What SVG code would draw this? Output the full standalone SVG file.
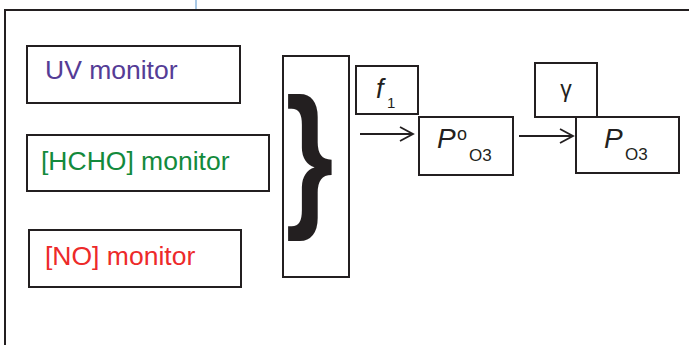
<svg xmlns="http://www.w3.org/2000/svg" width="689" height="345" viewBox="0 0 689 345">
<defs>
<style>
.box{fill:#fff;stroke:#231f20;stroke-width:2}
.lbl{font-family:"Liberation Sans",Arial,sans-serif;font-size:26.5px}
.sym{font-family:"Liberation Sans",Arial,sans-serif;fill:#231f20}
.conn{stroke:#231f20;stroke-width:1.8;fill:none}
</style>
</defs>
<rect width="689" height="345" fill="#fff"/>
<line x1="196" y1="0" x2="196" y2="10" stroke="#a9c9e6" stroke-width="2"/>
<path d="M5,345 V10 H689" fill="none" stroke="#231f20" stroke-width="2"/>
<g id="uv-monitor">
<rect class="box" x="27" y="46" width="213" height="57"/>
<text class="lbl" x="45" y="79" fill="#553c96">UV monitor</text>
</g>
<g id="hcho-monitor">
<rect class="box" x="27" y="135" width="242" height="56"/>
<text class="lbl" x="41" y="170" fill="#138a3c">[HCHO] monitor</text>
</g>
<g id="no-monitor">
<rect class="box" x="29" y="230" width="212" height="57"/>
<text class="lbl" x="45" y="265" fill="#ed2a2a">[NO] monitor</text>
</g>
<g id="combiner">
<rect class="box" x="283" y="56" width="66" height="221"/>
<text class="sym" transform="translate(285.5,208) scale(0.78,1)" font-size="158" font-weight="bold">}</text>
</g>
<g id="f1">
<rect class="box" x="356" y="66" width="62" height="48"/>
<text class="sym" x="376" y="98" font-size="27" font-style="italic">f</text>
<text class="sym" x="387" y="108" font-size="15">1</text>
</g>
<g id="p0-o3">
<rect class="box" x="419" y="117" width="94" height="58"/>
<text class="sym" x="437" y="148" font-size="28" font-style="italic">P</text>
<text class="sym" x="457" y="140" font-size="18">o</text>
<text class="sym" x="469" y="161" font-size="17">O3</text>
</g>
<g id="gamma">
<rect class="box" x="535" y="63" width="62" height="54"/>
<text class="sym" x="566" y="97" font-size="23" text-anchor="middle">γ</text>
</g>
<g id="p-o3">
<rect class="box" x="576" y="117" width="103" height="56"/>
<text class="sym" x="604" y="148" font-size="28" font-style="italic">P</text>
<text class="sym" x="625" y="160" font-size="17">O3</text>
</g>
<g id="connectors">
<path class="conn" d="M360,134 H413 M400,127 L413,134 L400,141"/>
<path class="conn" d="M519,136 H573 M560,129 L573,136 L560,143"/>
</g>
</svg>
